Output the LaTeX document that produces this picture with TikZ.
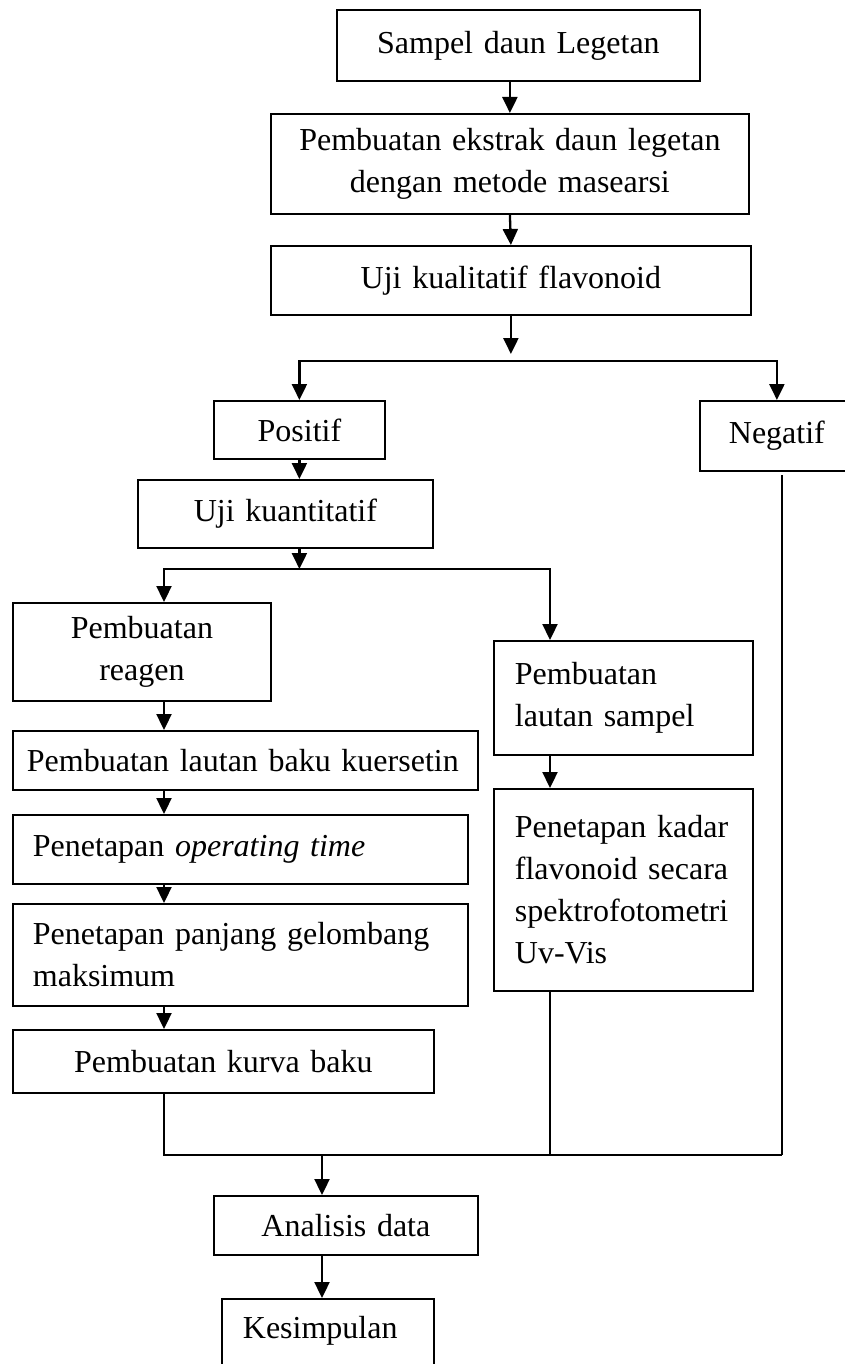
\documentclass[tikz,border=0pt]{standalone}
\usepackage{fontspec}
\setmainfont{Liberation Serif}
\usetikzlibrary{arrows.meta}
\begin{document}
\begin{tikzpicture}[x=1pt, y=-1pt,
        kotak/.style = {draw, line width=1.8pt, anchor=north west,
            inner xsep=10pt, inner ysep=0pt, align=center,
            font=\fontsize{32}{42}\selectfont},
        rata kiri/.style = {align=left, inner xsep=20pt},
        panah/.style = {line width=2.3pt, -{Triangle[width=15pt,length=16pt]}},
        garis/.style = {line width=2pt}]
    \useasboundingbox (0,0) rectangle (845,1364);
    \clip (0,0) rectangle (845,1364);

    % alur utama
    \node[kotak, text width=343pt, minimum height=71pt] (sampel) at (336,9) {Sampel daun Legetan};
    \node[kotak, text width=458pt, minimum height=100pt] (ekstrak) at (270,113)
        {Pembuatan ekstrak daun legetan\\dengan metode masearsi};
    \node[kotak, text width=460pt, minimum height=69pt] (kualitatif) at (270,245) {Uji kualitatif flavonoid};
    \node[kotak, text width=151pt, minimum height=58pt] (positif) at (213,400) {Positif};
    \node[kotak, text width=134pt, minimum height=70pt] (negatif) at (699,400) {Negatif};
    \node[kotak, text width=275pt, minimum height=68pt] (kuantitatif) at (137,479) {Uji kuantitatif};

    % cabang kiri
    \node[kotak, text width=238pt, minimum height=98pt] (reagen) at (12,602) {Pembuatan\\reagen};
    \node[kotak, rata kiri, inner xsep=14pt, text width=437pt, minimum height=59pt] (baku) at (12,730)
        {Pembuatan lautan baku kuersetin};
    \node[kotak, rata kiri, text width=415pt, minimum height=69pt] (optime) at (12,814)
        {Penetapan \textit{operating time}};
    \node[kotak, rata kiri, text width=415pt, minimum height=102pt] (lamda) at (12,903)
        {Penetapan panjang gelombang\\maksimum};
    \node[kotak, text width=401pt, minimum height=63pt] (kurva) at (12,1029) {Pembuatan kurva baku};

    % cabang kanan
    \node[kotak, rata kiri, inner xsep=21pt, text width=217pt, minimum height=114pt] (lsampel) at (493,640)
        {Pembuatan\\lautan sampel};
    \node[kotak, rata kiri, inner xsep=21pt, text width=217pt, minimum height=202pt] (kadar) at (493,788)
        {Penetapan kadar\\flavonoid secara\\spektrofotometri\\Uv-Vis};

    % akhir
    \node[kotak, text width=244pt, minimum height=59pt] (analisis) at (213,1195) {Analisis data};
    \node[kotak, rata kiri, inner xsep=21pt, text width=170pt, text height=40pt, text depth=80pt]
        (kesimpulan) at (221,1298) {Kesimpulan};

    % titik bantu
    \coordinate (ujung1) at (kualitatif.south |- 0,354);
    \coordinate (cabang1) at (kualitatif.south |- 0,361);
    \coordinate (cabang2) at (positif.south |- 0,569);
    \coordinate (jalurkiri) at (164,0);
    \coordinate (jalurkanan) at (550,0);
    \coordinate (gabung) at (782,1155);
    \coordinate (bawahnegatif) at (782,475);
    \coordinate (tengah) at (322,0);

    % panah
    \draw[panah] (ekstrak.north |- sampel.south) -- (ekstrak.north);
    \draw[panah] (ekstrak.south) -- (kualitatif.north);
    \draw[panah] (kualitatif.south) -- (ujung1);
    \draw[panah] (cabang1) -| (positif.north);
    \draw[panah] (cabang1) -| (negatif.north);
    \draw[panah] (positif.south) -- (positif.south |- kuantitatif.north);
    \draw[panah] (positif.south |- kuantitatif.south) -- (cabang2);
    \draw[panah] (cabang2) -| (jalurkiri |- reagen.north);
    \draw[panah] (cabang2) -| (jalurkanan |- lsampel.north);
    \draw[panah] (jalurkiri |- reagen.south) -- (jalurkiri |- baku.north);
    \draw[panah] (jalurkiri |- baku.south) -- (jalurkiri |- optime.north);
    \draw[panah] (jalurkiri |- optime.south) -- (jalurkiri |- lamda.north);
    \draw[panah] (jalurkiri |- lamda.south) -- (jalurkiri |- kurva.north);
    \draw[panah] (jalurkanan |- lsampel.south) -- (jalurkanan |- kadar.north);

    % garis gabungan
    \draw[garis] (jalurkiri |- kurva.south) |- (gabung);
    \draw[garis] (jalurkanan |- kadar.south) -- (jalurkanan |- gabung);
    \draw[garis] (bawahnegatif) -- (gabung);
    \draw[panah] (tengah |- gabung) -- (tengah |- analisis.north);
    \draw[panah] (tengah |- analisis.south) -- (tengah |- kesimpulan.north);
\end{tikzpicture}
\end{document}
